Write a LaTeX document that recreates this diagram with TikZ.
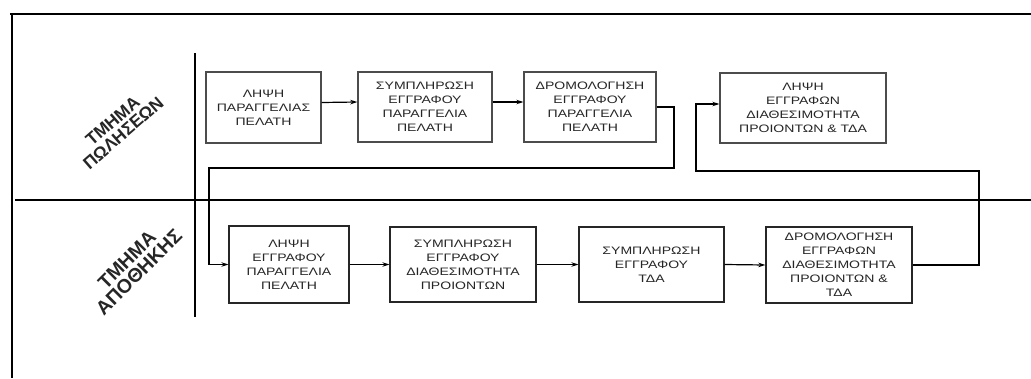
\documentclass[tikz,border=0pt]{standalone}
\usepackage{fontspec}
\usetikzlibrary{arrows.meta}
\newfontfamily\boxfont[FakeStretch=1.3]{Liberation Sans}
\newfontfamily\lanefont{Liberation Sans}
\begin{document}
\begin{tikzpicture}[x=1pt,y=-1pt,
  frame/.style={line width=1.5pt,draw=black},
  task/.style={draw=black!70,line width=1.3pt,fill=white,align=center,
    inner sep=2pt,font=\boxfont\fontsize{10.8}{14}\selectfont,text=black!85},
  lane/.style={align=center,text=black!85},
  flow/.style={line width=1.2pt,draw=black,-{Stealth[length=7pt,width=4.5pt]}}]
\useasboundingbox (0,0) rectangle (1031,378);

% outer frame and swimlane dividers
\draw[frame] (10,14) -- (1031,14);
\draw[frame] (12,14) -- (12,378);
\draw[frame] (15,200) -- (1031,200);
\draw[frame] (195,53) -- (195,317);

% lane titles
\node[lane,rotate=41,font=\lanefont\bfseries\fontsize{17.5}{16}\selectfont]
  (salesLane) at (118,127) {ΤΜΗΜΑ\\ΠΩΛΗΣΕΩΝ};
\node[lane,rotate=45,font=\lanefont\bfseries\fontsize{19.5}{17}\selectfont]
  (storeLane) at (133,266) {ΤΜΗΜΑ\\ΑΠΟΘΗΚΗΣ};

% sales department tasks
\node[task,minimum width=115,minimum height=71] (b1) at (263.5,107.5) {ΛΗΨΗ\\ΠΑΡΑΓΓΕΛΙΑΣ\\ΠΕΛΑΤΗ};
\node[task,minimum width=134,minimum height=70] (b2) at (425,107) {ΣΥΜΠΛΗΡΩΣΗ\\ΕΓΓΡΑΦΟΥ\\ΠΑΡΑΓΓΕΛΙΑ\\ΠΕΛΑΤΗ};
\node[task,minimum width=132,minimum height=70] (b3) at (590,107) {ΔΡΟΜΟΛΟΓΗΣΗ\\ΕΓΓΡΑΦΟΥ\\ΠΑΡΑΓΓΕΛΙΑ\\ΠΕΛΑΤΗ};
\node[task,minimum width=166,minimum height=70] (b4) at (803,108) {ΛΗΨΗ\\ΕΓΓΡΑΦΩΝ\\ΔΙΑΘΕΣΙΜΟΤΗΤΑ\\ΠΡΟΙΟΝΤΩΝ \& ΤΔΑ};

% warehouse tasks
\node[task,draw=black!85,minimum width=120,minimum height=77] (b5) at (289,264.5) {ΛΗΨΗ\\ΕΓΓΡΑΦΟΥ\\ΠΑΡΑΓΓΕΛΙΑ\\ΠΕΛΑΤΗ};
\node[task,draw=black!85,minimum width=146,minimum height=75] (b6) at (463,264.5) {ΣΥΜΠΛΗΡΩΣΗ\\ΕΓΓΡΑΦΟΥ\\ΔΙΑΘΕΣΙΜΟΤΗΤΑ\\ΠΡΟΙΟΝΤΩΝ};
\node[task,draw=black!85,minimum width=145,minimum height=75] (b7) at (651.5,264.5) {ΣΥΜΠΛΗΡΩΣΗ\\ΕΓΓΡΑΦΟΥ\\ΤΔΑ};
\node[task,draw=black!85,minimum width=146,minimum height=76] (b8) at (839,265) {ΔΡΟΜΟΛΟΓΗΣΗ\\ΕΓΓΡΑΦΩΝ\\ΔΙΑΘΕΣΙΜΟΤΗΤΑ\\ΠΡΟΙΟΝΤΩΝ \&\\ΤΔΑ};

% routing corners of the cross-lane connectors
\coordinate (r1) at (674,168);
\coordinate (l1) at (209,168);
\coordinate (r2) at (979,171);
\coordinate (l2) at (696,171);

% connectors
\draw[flow] ([yshift=5pt]b1.east) -- ([yshift=5pt]b2.west);
\draw[flow] ([yshift=5pt]b2.east) -- ([yshift=5pt]b3.west);
\draw[flow] (b3.east) -| (r1) -- (l1) |- (b5.west);
\draw[flow] (b5.east) -- (b6.west);
\draw[flow] (b6.east) -- (b7.west);
\draw[flow] (b7.east) -- (b8.west);
\draw[flow] (b8.east) -| (r2) -- (l2) |- ([yshift=4pt]b4.west);
\end{tikzpicture}
\end{document}
